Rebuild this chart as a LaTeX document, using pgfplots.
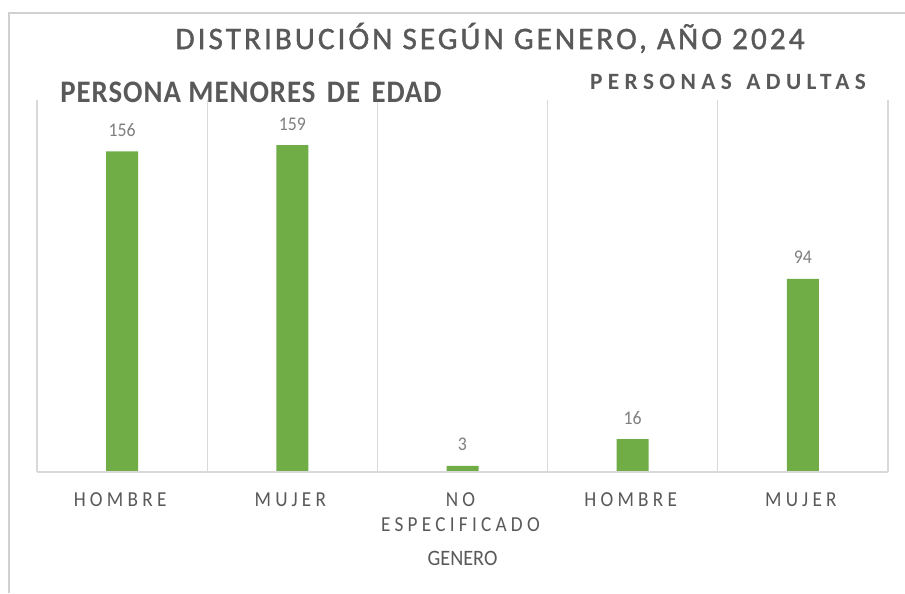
\documentclass[border=0pt]{standalone}
\usepackage{pgfplots}
\pgfplotsset{compat=1.18}
\usepackage{fontspec}
\setmainfont{Carlito}
\newfontfamily\titlefont[LetterSpace=9.5,FakeBold=1.2]{Carlito}
\newfontfamily\subAfont[LetterSpace=3,FakeStretch=0.92]{Carlito}
\newfontfamily\subBfont[LetterSpace=23]{Carlito}
\newfontfamily\catfont[LetterSpace=20,FakeStretch=0.9]{Carlito}
\newfontfamily\lblfont[FakeStretch=0.92]{Carlito}
\definecolor{barGreen}{HTML}{70AD47}
\definecolor{gridgray}{HTML}{D9D9D9}
\definecolor{txtgray}{HTML}{595959}
\definecolor{lblgray}{HTML}{7F7F7F}
\definecolor{framegray}{HTML}{D0D0D0}
\begin{document}
\begin{tikzpicture}[x=0.75pt,y=-0.75pt]
\useasboundingbox (0,0) rectangle (905,593);
\fill[white] (0,0) rectangle (905,593);
\draw[framegray, line width=1.5pt] (9,593) -- (9,13) -- (905,13);
\coordinate (O) at (37,472);
\begin{axis}[
  at={(O)}, anchor=south west,
  scale only axis, width=638.25pt, height=279pt,
  xmin=-0.5, xmax=4.5, ymin=0, ymax=181,
  ytick=\empty,
  axis line style={draw=none},
  xtick={0,1,2,3,4},
  xticklabels={HOMBRE,MUJER,{NO\\ESPECIFICADO},HOMBRE,MUJER},
  xticklabel style={font=\catfont\fontsize{16}{18.75}\selectfont, text=txtgray, align=center, anchor=north, yshift=-12pt, xshift=-1.5pt},
  major tick length=0pt,
  extra x ticks={-0.5,0.5,1.5,2.5,3.5,4.5},
  extra x tick labels={},
  extra x tick style={grid=major, major grid style={draw=gridgray, line width=0.9pt}},
  /pgf/number format/assume math mode=true,
  clip=false,
]
\addplot[ybar, bar width=24pt, fill=barGreen, draw=none,
  nodes near coords,
  every node near coord/.append style={font=\lblfont\fontsize{14.5}{16}\selectfont, text=lblgray, anchor=south, inner sep=0pt, yshift=11pt}]
  coordinates {(0,156) (1,159) (2,3) (3,16) (4,94)};
\draw[gridgray, line width=1.2pt] (axis cs:-0.5,0) -- (axis cs:4.5,0);
\end{axis}
\node[text=txtgray, font=\titlefont\fontsize{23.5}{26}\selectfont] at (490,38) {DISTRIBUCIÓN SEGÚN GENERO, AÑO 2024};
\node[text=txtgray, font=\subAfont\bfseries\fontsize{23.5}{26}\selectfont] at (251,92) {PERSONA MENORES\hspace{3pt} DE\hspace{3pt} EDAD};
\node[text=txtgray, font=\subBfont\bfseries\fontsize{17.5}{20}\selectfont] at (728,82) {PERSONAS\hspace{3pt} ADULTAS};
\node[text=txtgray, font=\lblfont\fontsize{16.5}{18}\selectfont] at (462.5,558) {GENERO};
\end{tikzpicture}
\end{document}
